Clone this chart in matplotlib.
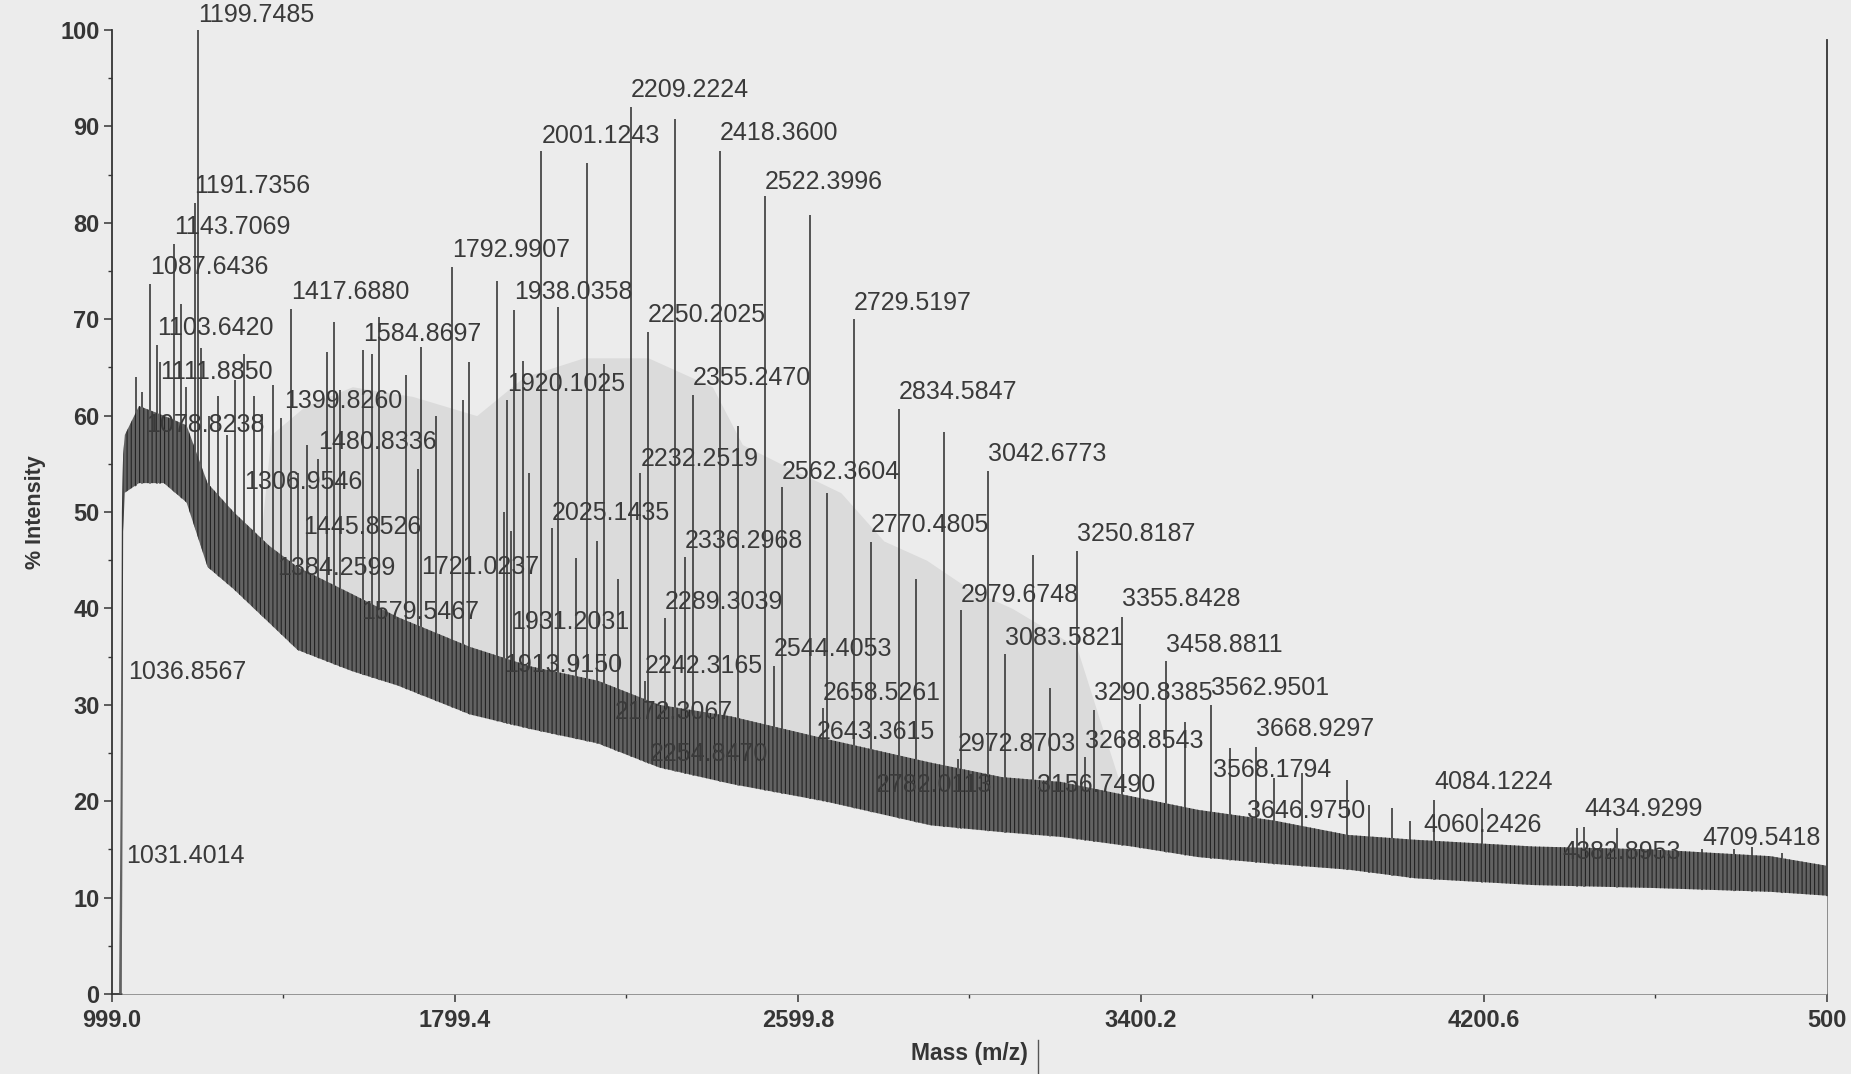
import numpy as np
import matplotlib.pyplot as plt
from matplotlib.lines import Line2D
from matplotlib.ticker import FixedLocator, MultipleLocator

plt.rcParams['font.family'] = ['Liberation Sans', 'DejaVu Sans']
plt.rcParams['hatch.linewidth'] = 0.8

# envelope of the noisy raw trace (m/z, lower %, upper %)
band_mz = [1016, 1019, 1022, 1025, 1029, 1062, 1120, 1173, 1222, 1283, 1366, 1432,
           1559, 1666, 1835, 1975, 2133, 2276, 2444, 2662, 2910, 3076, 3214, 3379,
           3534, 3710, 3884, 4041, 4317, 4593, 4869, 5001]
band_lo = [0, 0, 0, 48, 52, 53, 53, 51, 44.3, 42, 38.5, 35.7,
           33.5, 32, 29, 27.5, 26, 23.5, 21.8, 20, 17.5, 16.8, 16.3, 15.3,
           14.2, 13.5, 12.9, 12, 11.3, 11, 10.6, 10.2]
band_hi = [1, 20, 50, 56, 58, 61, 60, 59, 53, 50, 46.5, 44.3,
           41.5, 39.1, 36, 34, 32.5, 30, 28.8, 26.5, 24, 22.5, 22, 20.5,
           19.1, 18, 16.5, 16, 15.3, 15, 14.3, 13.3]

# light grey shading behind the peak forest in the scan
haze_mz = [1330, 1370, 1450, 1560, 1700, 1850, 1960, 2100, 2250, 2400, 2470,
           2560, 2700, 2800, 2900, 3000, 3100, 3250, 3350]
haze_top = [40, 58, 61, 63, 62, 60, 64, 66, 66, 63, 57,
            55, 52, 47, 45, 42, 40, 36, 22]

# peak sticks (m/z, % intensity)
peak_mz = [1055, 1068, 1087.6436, 1103.642, 1111.885, 1143.7069, 1161, 1172, 1191.7356,
           1199.7485, 1206, 1225, 1247, 1267, 1287, 1306.9546, 1330, 1349, 1375, 1393,
           1417.688, 1432, 1454, 1480.8336, 1500, 1518, 1531, 1584.8697, 1605, 1622,
           1686, 1712, 1721.0237, 1755, 1792.9907, 1817, 1833, 1898, 1913.915, 1920.1025,
           1931.2031, 1938.0358, 1959, 1973, 2001.1243, 2025.1435, 2039, 2082, 2107, 2130,
           2146, 2172.3067, 2180, 2209.2224, 2232.2519, 2242.3165, 2250.2025, 2289.3039,
           2314, 2336.2968, 2355.247, 2418.36, 2460, 2522.3996, 2544.4053, 2562.3604,
           2629, 2643.3615, 2658.5261, 2668, 2729.5197, 2770.4805, 2834.5847, 2876, 2940,
           2972.8703, 2979.6748, 3042.6773, 3083.5821, 3149, 3188, 3250.8187, 3268.8543,
           3290.8385, 3355.8428, 3398, 3458.8811, 3503, 3562.9501, 3608, 3668.9297, 3711,
           3776, 3881, 3932, 3986, 4027, 4084.1224, 4196, 4418, 4434.9299, 4512,
           4709.5418, 4784, 4827, 4897]
peak_int = [64, 62.5, 73.7, 67.3, 65.6, 77.8, 71.6, 63, 82.1,
            100, 67, 60, 62, 58, 63.7, 66.4, 62, 60.2, 63.2, 59.8,
            71.1, 54, 57, 55.5, 66.6, 69.7, 62.7, 66.8, 66.4, 70.2,
            64.2, 54.5, 67.1, 60, 75.4, 61.6, 65.6, 74.0, 50, 61.6,
            48, 71.0, 65.7, 54, 87.5, 48.3, 71.3, 45.2, 86.2, 47,
            65.4, 27.7, 43.1, 92, 54, 32.5, 68.7, 39,
            90.8, 45.3, 62.1, 87.5, 58.9, 82.8, 34, 52.6,
            80.8, 25.5, 29.7, 52, 70, 46.9, 60.7, 43.1, 58.3,
            24.4, 39.8, 54.3, 35.3, 45.5, 31.7, 46, 24.6,
            29.5, 39.1, 30.1, 34.5, 28.2, 30, 25.5, 25.6, 22.4,
            22.9, 22.2, 19.6, 19.3, 17.9, 20.1, 19.3, 17.2, 17.3, 17.2,
            15, 15, 15.3, 14.6]

# peak annotations and the height (%) of each label's baseline
label_text = ['1199.7485', '1191.7356', '1143.7069', '1087.6436', '1103.6420', '1111.8850',
              '1078.8238', '1036.8567', '1031.4014', '1417.6880', '1399.8260', '1306.9546',
              '1480.8336', '1445.8526', '1384.2599', '1579.5467', '1584.8697', '1721.0237',
              '1792.9907', '1938.0358', '1920.1025', '1931.2031', '1913.9150', '2001.1243',
              '2025.1435', '2209.2224', '2250.2025', '2232.2519', '2355.2470', '2336.2968',
              '2289.3039', '2242.3165', '2172.3067', '2254.8470', '2418.3600', '2522.3996',
              '2562.3604', '2544.4053', '2658.5261', '2643.3615', '2729.5197', '2770.4805',
              '2834.5847', '2782.0113', '3042.6773', '2979.6748', '2972.8703', '3083.5821',
              '3156.7490', '3250.8187', '3268.8543', '3290.8385', '3355.8428', '3458.8811',
              '3562.9501', '3568.1794', '3646.9750', '3668.9297', '4084.1224', '4060.2426',
              '4434.9299', '4382.8953', '4709.5418']
label_y = [100.3, 82.6, 78.3, 74.2, 67.8, 63.3,
           57.8, 32.2, 13.1, 71.6, 60.3, 51.9,
           56.0, 47.2, 43.0, 38.4, 67.2, 43.1,
           75.9, 71.6, 62.0, 37.3, 32.9, 87.8,
           48.7, 92.5, 69.2, 54.3, 62.7, 45.8,
           39.4, 32.8, 28.0, 23.7, 88.1, 83.0,
           52.9, 34.5, 30.0, 25.9, 70.4, 47.4,
           61.2, 20.4, 54.8, 40.1, 24.7, 35.7,
           20.4, 46.5, 25.0, 30.0, 39.7, 35.0,
           30.5, 22.0, 17.7, 26.2, 20.7, 16.3,
           17.9, 13.5, 14.9]

x_ticks = [999.0, 1799.4, 2599.8, 3400.2, 4200.6, 5001.0]
x_ticklabels = ['999.0', '1799.4', '2599.8', '3400.2', '4200.6', '500']

bg = '#ececec'
ink = '#353535'

fig = plt.figure(figsize=(18.51, 10.74), dpi=100, facecolor=bg)
ax = fig.add_axes([0.0605, 0.0745, 0.9265, 0.8975], facecolor=bg)

ax.fill_between(haze_mz, 0, haze_top, color='#dbdbdb', lw=0, zorder=1)
ax.vlines(peak_mz, 0, peak_int, color='#3a3a3a', lw=1.2, zorder=2)
ax.fill_between(band_mz, 0, band_lo, color=bg, lw=0, zorder=3)
ax.fill_between(band_mz, band_lo, band_hi, facecolor='#626262', edgecolor='#232323',
                hatch='||||', lw=0, zorder=4)

for t, y in zip(label_text, label_y):
    ax.text(float(t), y, t, ha='left', va='bottom', fontsize=18, color='#3a3a3a',
            zorder=6, clip_on=False)

ax.set_xlim(999.0, 5001.0)
ax.set_ylim(0, 100)
ax.xaxis.set_major_locator(FixedLocator(x_ticks))
ax.set_xticklabels(x_ticklabels)
ax.xaxis.set_minor_locator(FixedLocator([1399.2, 2199.6, 3000.0, 3800.4, 4600.8]))
ax.yaxis.set_major_locator(MultipleLocator(10))
ax.yaxis.set_minor_locator(MultipleLocator(5))

ax.tick_params(which='major', direction='out', length=6, width=1.1, color=ink,
               labelsize=17, labelcolor=ink)
ax.tick_params(axis='x', which='major', pad=5)
ax.tick_params(axis='y', which='major', pad=3)
ax.tick_params(which='minor', direction='out', length=3, width=1.0, color=ink)
for lab in ax.get_xticklabels() + ax.get_yticklabels():
    lab.set_fontweight('bold')

ax.spines['top'].set_visible(False)
for s in ['left', 'bottom', 'right']:
    ax.spines[s].set_color(ink)
    ax.spines[s].set_linewidth(1.3)
ax.spines['right'].set_bounds(0, 99)

ax.set_xlabel('Mass (m/z)', fontsize=16.5, fontweight='bold', color=ink, labelpad=7)
ax.set_ylabel('% Intensity', fontsize=15.5, fontweight='bold', color=ink, labelpad=10)

fig.add_artist(Line2D([0.561, 0.561], [0.0, 0.032], transform=fig.transFigure,
                      color='#555555', lw=1.0))

fig.savefig('out.png', dpi=100, facecolor=bg)
